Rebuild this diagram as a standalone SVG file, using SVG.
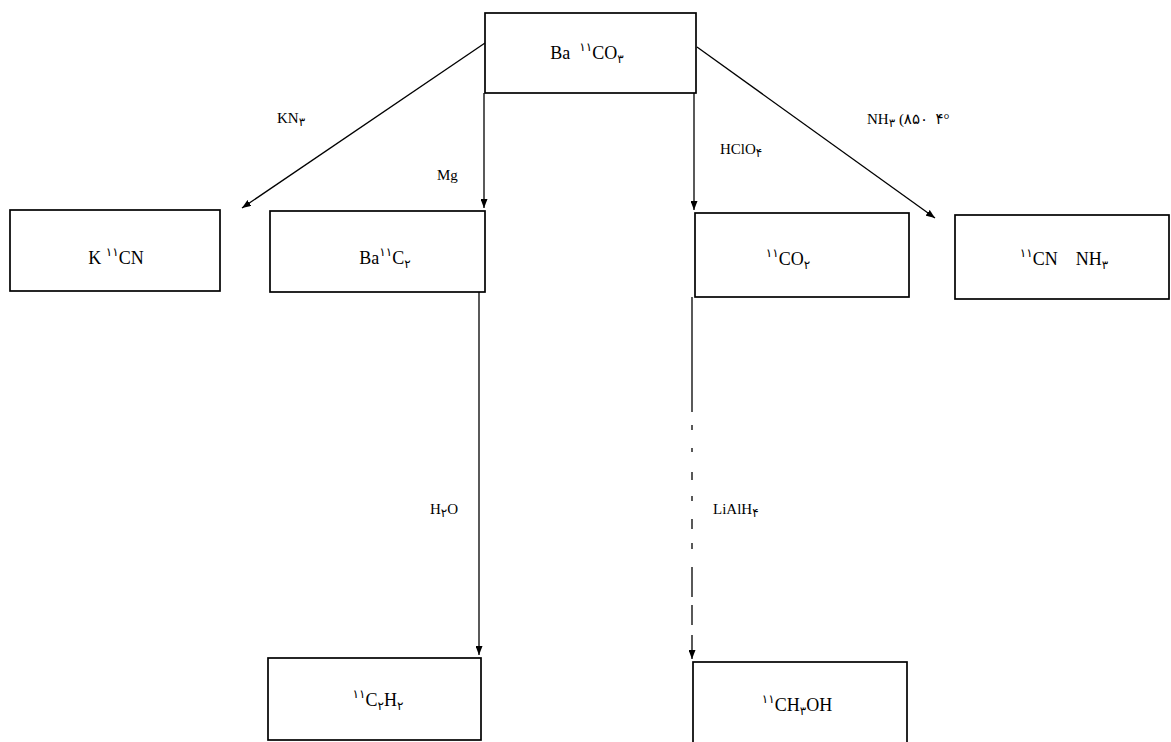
<svg xmlns="http://www.w3.org/2000/svg" width="1171" height="742" viewBox="0 0 1171 742">
<defs>
<marker id="ah" markerUnits="userSpaceOnUse" markerWidth="9" markerHeight="7" refX="9" refY="3.5" orient="auto">
<path d="M0,0 L9,3.5 L0,7 z" fill="#000"/>
</marker>
<style>
.box{fill:#fff;stroke:#000;stroke-width:1.7}
.t{font-family:"Liberation Serif","DejaVu Sans",serif;font-size:18px;fill:#000;text-anchor:middle;white-space:pre}
.l{font-family:"Liberation Serif","DejaVu Sans",serif;font-size:15px;fill:#000;white-space:pre}
.sup{font-size:12px}
.sub{font-size:12px}
.c{fill:none;stroke:#000;stroke-width:1.3}
.a{marker-end:url(#ah)}
</style>
</defs>
<rect width="1171" height="742" fill="#fff"/>
<g id="connectors">
<path class="c a" d="M485,43 L242,208"/>
<path class="c a" d="M484,93 L484,208"/>
<path class="c a" d="M694,93 L694,210"/>
<path class="c a" d="M697,47 L935,218"/>
<path class="c a" d="M479,292 L479,655"/>
<path class="c" d="M692,297 L692,412"/>
<path class="c a" d="M692,425 L692,659" stroke-dasharray="5 18 4 20 8 16 5 18 10 14 6 18 30 8 20 10 40"/>
<text class="l" x="277" y="123">KN<tspan class="sub" dy="3">۳</tspan></text>
<text class="l" x="437" y="180">Mg</text>
<text class="l" x="720" y="154">HClO<tspan class="sub" dy="3">۴</tspan></text>
<text class="l" x="867" y="124">NH<tspan class="sub" dy="3">۳</tspan><tspan dy="-3"> (۸۵۰  ۴°</tspan></text>
<text class="l" x="430" y="514">H<tspan class="sub" dy="3">۲</tspan><tspan dy="-3">O</tspan></text>
<text class="l" x="713" y="514">LiAlH<tspan class="sub" dy="3">۴</tspan></text>
</g>
<g id="n-baco3">
<rect class="box" x="485" y="13" width="211" height="80"/>
<text class="t" x="587" y="59">Ba  <tspan class="sup" dy="-8">۱۱</tspan><tspan dy="8">CO</tspan><tspan class="sub" dy="4">۳</tspan></text>
</g>
<g id="n-kcn">
<rect class="box" x="10" y="210" width="210" height="81"/>
<text class="t" x="116" y="264">K <tspan class="sup" dy="-8">۱۱</tspan><tspan dy="8">CN</tspan></text>
</g>
<g id="n-bac2">
<rect class="box" x="270" y="211" width="215" height="81"/>
<text class="t" x="385" y="264">Ba<tspan class="sup" dy="-8">۱۱</tspan><tspan dy="8">C</tspan><tspan class="sub" dy="4">۲</tspan></text>
</g>
<g id="n-co2">
<rect class="box" x="695" y="213" width="214" height="84"/>
<text class="t" x="788" y="265"><tspan class="sup" dy="-8">۱۱</tspan><tspan dy="8">CO</tspan><tspan class="sub" dy="4">۲</tspan></text>
</g>
<g id="n-cnnh3">
<rect class="box" x="955" y="215" width="214" height="84"/>
<text class="t" x="1064" y="265"><tspan class="sup" dy="-8">۱۱</tspan><tspan dy="8">CN    NH</tspan><tspan class="sub" dy="4">۳</tspan></text>
</g>
<g id="n-c2h2">
<rect class="box" x="268" y="658" width="213" height="82"/>
<text class="t" x="378" y="706"><tspan class="sup" dy="-8">۱۱</tspan><tspan dy="8">C</tspan><tspan class="sub" dy="4">۲</tspan><tspan dy="-4">H</tspan><tspan class="sub" dy="4">۲</tspan></text>
</g>
<g id="n-ch3oh">
<rect class="box" x="693" y="662" width="214" height="90"/>
<text class="t" x="797" y="711"><tspan class="sup" dy="-8">۱۱</tspan><tspan dy="8">CH</tspan><tspan class="sub" dy="4">۳</tspan><tspan dy="-4">OH</tspan></text>
</g>
</svg>
